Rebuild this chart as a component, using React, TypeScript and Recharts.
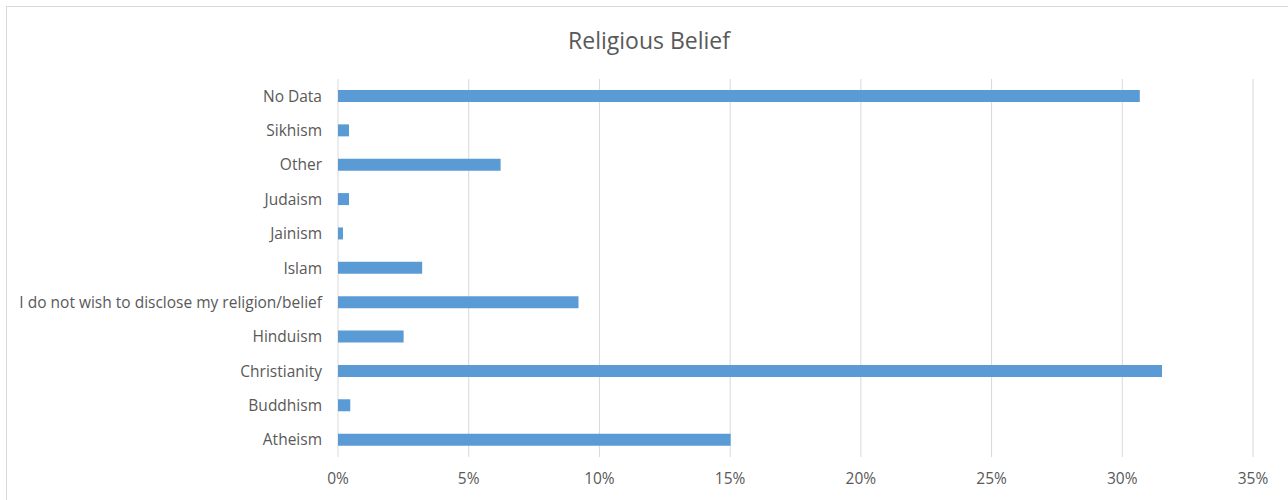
import React from 'react';
import { BarChart, Bar, XAxis, YAxis, CartesianGrid } from 'recharts';

// Excel order: first category sits at the bottom
const categories = [
  'Atheism',
  'Buddhism',
  'Christianity',
  'Hinduism',
  'I do not wish to disclose my religion/belief',
  'Islam',
  'Jainism',
  'Judaism',
  'Other',
  'Sikhism',
  'No Data',
];
const shares = [15.02, 0.47, 31.52, 2.51, 9.2, 3.22, 0.19, 0.42, 6.22, 0.42, 30.67];
const xTicks = [0, 5, 10, 15, 20, 25, 30, 35];

const FONT = '"Open Sans", sans-serif';
const TEXT = '#595959';

const data = categories.map((name, i) => ({ name, value: shares[i] }));

const App: React.FC = () => {
  return (
    <div
      style={{
        position: 'fixed',
        left: 6,
        top: 6,
        width: 1300,
        height: 520,
        border: '1.5px solid #d9d9d9',
        background: '#fff',
        boxSizing: 'border-box',
      }}
    >
      <div
        style={{
          position: 'absolute',
          left: 0,
          width: 1284,
          top: 17,
          textAlign: 'center',
          fontFamily: FONT,
          fontSize: 23,
          color: TEXT,
        }}
      >
        Religious Belief
      </div>
      <div style={{ position: 'absolute', left: -1.5, top: -1.5 }}>
        <BarChart
          width={1276}
          height={494}
          data={data}
          layout="vertical"
          margin={{ top: 73, right: 29, left: 0, bottom: 13 }}
          barSize={12}
        >
          <CartesianGrid horizontal={false} stroke="#d9d9d9" strokeWidth={1} />
          <XAxis
            type="number"
            domain={[0, 35]}
            ticks={xTicks}
            tickFormatter={(v: number) => `${v}%`}
            axisLine={false}
            tickLine={false}
            tickMargin={10}
            height={30}
            tick={{ fill: TEXT, fontSize: 15.5, fontFamily: FONT }}
          />
          <YAxis
            type="category"
            dataKey="name"
            reversed
            width={332}
            axisLine={false}
            tickLine={false}
            tickMargin={10}
            interval={0}
            tick={{ fill: TEXT, fontSize: 15.5, fontFamily: FONT }}
          />
          <Bar dataKey="value" fill="#5b9bd5" isAnimationActive={false} />
        </BarChart>
      </div>
    </div>
  );
};

export default App;
